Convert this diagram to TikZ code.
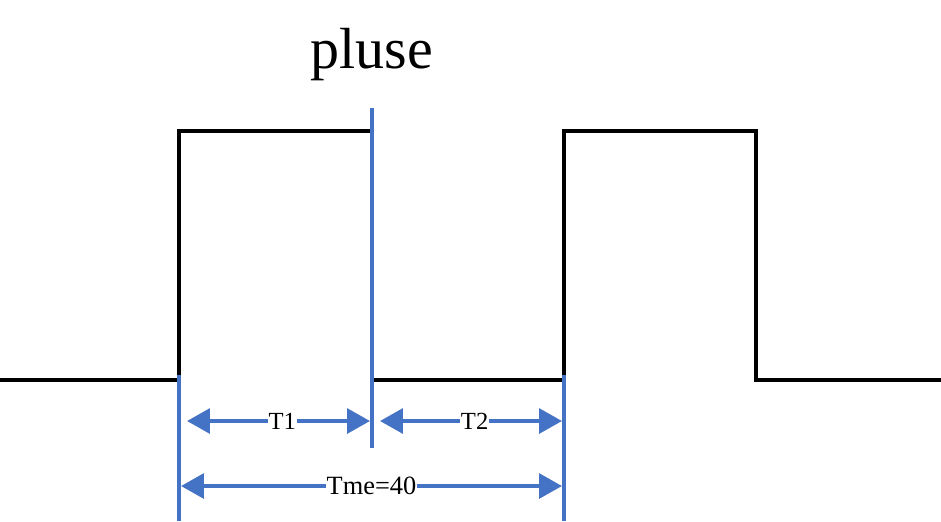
\documentclass[tikz,border=0pt]{standalone}
\usepackage{fontspec}
\setmainfont{Liberation Serif}
\usetikzlibrary{arrows.meta}
\definecolor{dimblue}{RGB}{68,114,196}

\begin{document}
\begin{tikzpicture}[x=0.2mm, y=-0.2mm,
		wave/.style={line width=2.3pt, black},
		guide/.style={line width=2.2pt, dimblue},
		dim/.style={line width=2.2pt, dimblue, {Triangle[length=13pt,width=14pt]}-{Triangle[length=13pt,width=14pt]}},
		lbl/.style={fill=white, text=black, inner sep=0.5pt, font=\fontsize{14}{16}\selectfont}]
	\useasboundingbox (0,0) rectangle (941,521);

	% Nodes
	\node[font=\fontsize{33}{38}\selectfont] (title) at (372,55) {pluse};

	% Waveform points
	\coordinate (w0) at (0,380);
	\coordinate (w1) at (179,380);
	\coordinate (w2) at (179,131);
	\coordinate (w3) at (372,131);
	\coordinate (w4) at (372,380);
	\coordinate (w5) at (564,380);
	\coordinate (w6) at (564,131);
	\coordinate (w7) at (756,131);
	\coordinate (w8) at (756,380);
	\coordinate (w9) at (941,380);

	% Waveform
	\draw[wave] (w0) -- (w1) -- (w2) -- (w3) -- (w4) -- (w5) -- (w6) -- (w7) -- (w8) -- (w9);

	% Guide lines
	\coordinate (g1) at (179,375);
	\coordinate (g1e) at (179,521);
	\coordinate (g2) at (372,108);
	\coordinate (g2e) at (372,448);
	\coordinate (g3) at (564,375);
	\coordinate (g3e) at (564,521);
	\draw[guide] (g1) -- (g1e);
	\draw[guide] (g2) -- (g2e);
	\draw[guide] (g3) -- (g3e);

	% Dimensions
	\coordinate (t1a) at (187,421);
	\coordinate (t1b) at (370,421);
	\coordinate (t2a) at (380,421);
	\coordinate (t2b) at (562,421);
	\coordinate (tma) at (181,486);
	\coordinate (tmb) at (562,486);
	\draw[dim] (t1a) -- node[lbl, pos=0.52] {T1} (t1b);
	\draw[dim] (t2a) -- node[lbl, pos=0.52] {T2} (t2b);
	\draw[dim] (tma) -- node[lbl, font=\fontsize{15}{17}\selectfont] {Tme=40} (tmb);
\end{tikzpicture}
\end{document}
